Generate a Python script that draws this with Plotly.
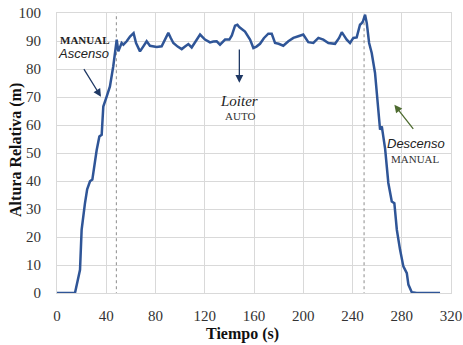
import plotly.graph_objects as go

tiempo = [0, 14.6, 18.7, 20, 22.7, 24.5, 26.8, 28.7, 32.2, 34.4, 36.3, 37.6, 40.4, 43, 45.7,
          48.5, 49.8, 52.5, 53.9, 56.6, 59.3, 62.2, 64.2, 67.4, 70, 72.8, 75.5, 78, 81, 85,
          88, 90.4, 92.5, 94.5, 98, 101.3, 104, 106.7, 109.4, 113, 116.2, 120.2, 124.3, 127,
          129.7, 132.4, 136.5, 140, 142, 144.6, 146.5, 148, 152.7, 156.8, 159.5, 162, 164.9,
          168, 171.6, 174.4, 177.1, 180, 183.8, 187.9, 192, 196, 200, 204.1, 208.2, 212.3,
          216.3, 220.4, 225.8, 229, 231.3, 233, 235.3, 238, 240.7, 243.4, 246.1, 247.5, 248.5,
          250.2, 251.6, 253.5, 255.6, 258.3, 259.7, 261.6, 262.4, 263.8, 265.1, 266.5, 269.1,
          271.9, 274, 276, 278.6, 281.3, 284.1, 285.4, 288.1, 292.2, 311.1]
altura = [0, 0, 8.3, 22.6, 32, 37, 39.9, 40.5, 51, 55.9, 56.5, 66.6, 70.2, 73.8, 81,
          90.5, 86.3, 89.3, 88.7, 89.9, 91.6, 92.8, 89.3, 86.3, 88, 89.9, 88.3, 88.1, 87.9, 88.1,
          90.5, 92.9, 91, 89.3, 88, 87.1, 88, 88.9, 87.7, 90, 92.3, 90.5, 89.5, 89.8,
          89.9, 88.7, 90.5, 90.5, 92, 95.5, 95.8, 95, 93.4, 90.5, 87.5, 88, 89,
          91, 92.6, 92.6, 89.3, 89, 88.3, 89.9, 91.1, 91.7, 92.3, 89.6, 89.3, 91.1,
          90.5, 89.3, 89, 91, 93.1, 92, 90.5, 89.3, 91.1, 91.3, 95.8, 96.4, 97,
          99.4, 96.4, 89.3, 85.7, 78.6, 71.4, 61.9, 58.3, 59.5, 55.9, 51.5, 39.3,
          32.7, 32.1, 22.6, 15.5, 9.5, 7.1, 3, 0.3, 0, 0]
marcas_t = [48.2, 249.4]
x_ticks = [0, 40, 80, 120, 160, 200, 240, 280, 320]
y_ticks = [0, 10, 20, 30, 40, 50, 60, 70, 80, 90, 100]

fig = go.Figure()
for mt in marcas_t:
    fig.add_trace(go.Scatter(x=[mt, mt], y=[-0.8, 100], mode="lines",
                             line=dict(color="#8c8c8c", width=1, dash="dot"),
                             showlegend=False, hoverinfo="skip", cliponaxis=False))
fig.add_trace(go.Scatter(x=tiempo, y=altura, mode="lines",
                         line=dict(color="#2F5597", width=2.5),
                         showlegend=False))

serif = "Liberation Serif"
sans = "Liberation Sans"
ann = [
    dict(x=22.7, y=90.5, text="<b>MANUAL</b>", font=dict(family=serif, size=11, color="#222")),
    dict(x=21.9, y=85.5, text="<i>Ascenso</i>", font=dict(family=sans, size=13, color="#222")),
    dict(x=148.1, y=68.7, text="<i>Loiter</i>", font=dict(family=serif, size=15, color="#222")),
    dict(x=148.7, y=63.1, text="AUTO", font=dict(family=serif, size=11, color="#333")),
    dict(x=291.4, y=53.3, text="<i>Descenso</i>", font=dict(family=sans, size=13, color="#222")),
    dict(x=291.4, y=47.9, text="MANUAL", font=dict(family=serif, size=11, color="#333")),
]
for a in ann:
    fig.add_annotation(xref="x", yref="y", showarrow=False, **a)

arrows = [
    dict(x=35.7, y=70.1, ax=21.1, ay=80.5, arrowcolor="#1F3864"),
    dict(x=148.1, y=75.1, ax=148.1, ay=87.5, arrowcolor="#1F3864"),
    dict(x=274, y=67.25, ax=290.3, ay=58.1, arrowcolor="#4E6B30"),
]
for a in arrows:
    fig.add_annotation(xref="x", yref="y", axref="x", ayref="y", text="", showarrow=True,
                       arrowhead=2, arrowsize=1.2, arrowwidth=1.3, **a)

# axis titles as paper annotations
fig.add_annotation(xref="paper", yref="paper", x=-0.104, y=0.511, textangle=-90,
                   text="<b>Altura Relativa (m)</b>", showarrow=False,
                   xanchor="center", yanchor="middle",
                   font=dict(family=serif, size=16, color="#111"))
fig.add_annotation(xref="paper", yref="paper", x=0.471, y=-0.146,
                   text="<b>Tiempo (s)</b>", showarrow=False,
                   xanchor="center", yanchor="middle",
                   font=dict(family=serif, size=16, color="#111"))

fig.update_layout(
    width=463, height=345,
    margin=dict(l=57, r=12, t=13, b=52),
    paper_bgcolor="white", plot_bgcolor="white",
    xaxis=dict(range=[0, 320], tickvals=x_ticks, showgrid=True, gridcolor="#d9d9d9",
               gridwidth=1, zeroline=False, showline=True, linecolor="#d9d9d9", mirror=True,
               ticks="", ticklabelstandoff=9, automargin=False,
               tickfont=dict(family=serif, size=15, color="#333")),
    yaxis=dict(range=[0, 100], tickvals=y_ticks, showgrid=True, gridcolor="#d9d9d9",
               gridwidth=1, zeroline=False, showline=True, linecolor="#d9d9d9", mirror=True,
               ticks="", ticklabelstandoff=12, automargin=False,
               tickfont=dict(family=serif, size=15, color="#333")),
)
fig.write_html("out.html", config={"displayModeBar": False},
               post_script="document.body.style.margin='0';document.body.style.overflow='hidden';")
